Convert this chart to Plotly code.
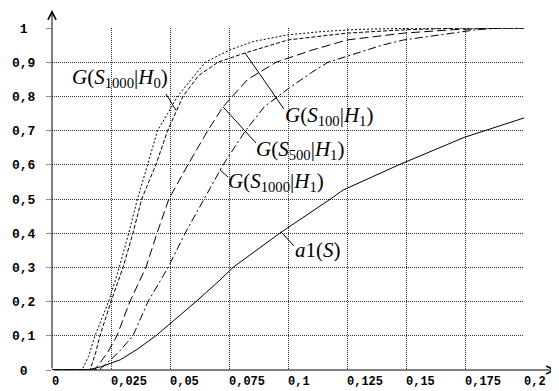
import plotly.graph_objects as go

# ---- data ----
s_h0 = [0, 0.0127, 0.0155, 0.0182, 0.0240, 0.0285, 0.0325, 0.0362, 0.0405, 0.0447, 0.0490, 0.0532, 0.0590, 0.0650, 0.0750, 0.0850, 0.100, 0.115, 0.130, 0.150, 0.175, 0.200]
g_h0 = [0, 0, 0.04, 0.10, 0.20, 0.30, 0.40, 0.50, 0.60, 0.70, 0.75, 0.80, 0.85, 0.90, 0.935, 0.960, 0.980, 0.990, 0.996, 0.999, 1.0, 1.0]

s_100 = [0, 0.0161, 0.0185, 0.0203, 0.0250, 0.0301, 0.0343, 0.0380, 0.0440, 0.0490, 0.0555, 0.0620, 0.0703, 0.0818, 0.100, 0.125, 0.150, 0.175, 0.200]
g_100 = [0, 0, 0.05, 0.10, 0.20, 0.30, 0.40, 0.50, 0.60, 0.70, 0.80, 0.86, 0.90, 0.927, 0.965, 0.985, 0.995, 1.0, 1.0]

s_500 = [0, 0.0180, 0.0235, 0.0275, 0.0330, 0.0398, 0.0445, 0.0495, 0.0576, 0.0660, 0.0725, 0.0830, 0.0950, 0.110, 0.125, 0.149, 0.170, 0.190, 0.200]
g_500 = [0, 0, 0.05, 0.10, 0.20, 0.30, 0.40, 0.50, 0.60, 0.70, 0.77, 0.85, 0.90, 0.935, 0.965, 0.985, 0.995, 1.0, 1.0]

s_1000 = [0, 0.0200, 0.0280, 0.0343, 0.0407, 0.0492, 0.0564, 0.0645, 0.0725, 0.0820, 0.0900, 0.0996, 0.110, 0.117, 0.140, 0.149, 0.165, 0.180, 0.190, 0.200]
g_1000 = [0, 0, 0.05, 0.10, 0.20, 0.30, 0.40, 0.50, 0.60, 0.70, 0.77, 0.82, 0.87, 0.90, 0.95, 0.965, 0.98, 0.995, 1.0, 1.0]

s_a1 = [0, 0.0150, 0.0210, 0.0290, 0.0360, 0.0440, 0.0610, 0.0712, 0.0767, 0.0965, 0.118, 0.1233, 0.147, 0.1746, 0.200]
g_a1 = [0, 0, 0.01, 0.03, 0.06, 0.10, 0.20, 0.263, 0.30, 0.40, 0.50, 0.526, 0.60, 0.68, 0.737]

x_ticks = [0, 0.025, 0.05, 0.075, 0.1, 0.125, 0.15, 0.175, 0.2]
x_ticklabels = ["0", "0,025", "0,05", "0,075", "0,1", "0,125", "0,15", "0,175", "0,2"]
y_ticks = [0, 0.1, 0.2, 0.3, 0.4, 0.5, 0.6, 0.7, 0.8, 0.9, 1.0]
y_ticklabels = ["\u00a00\u00a0", "0,1", "0,2", "0,3", "0,4", "0,5", "0,6", "0,7", "0,8", "0,9", "\u00a01\u00a0"]

series = [
    (s_h0, g_h0, "2px,2px"),
    (s_100, g_100, "4px,2px"),
    (s_500, g_500, "9px,4px"),
    (s_1000, g_1000, "8px,3px,2px,3px"),
    (s_a1, g_a1, "solid"),
]

# label text, label centre (x, y), leader start, leader end
labels = [
    ("<i>G</i>(<i>S</i><sub>1000</sub>|<i>H</i><sub>0</sub>)", 0.0288, 0.854, (0.0483, 0.807), (0.0525, 0.760)),
    ("<i>G</i>(<i>S</i><sub>100</sub>|<i>H</i><sub>1</sub>)", 0.1172, 0.743, (0.0818, 0.927), (0.0983, 0.763)),
    ("<i>G</i>(<i>S</i><sub>500</sub>|<i>H</i><sub>1</sub>)", 0.1051, 0.643, (0.0725, 0.769), (0.0864, 0.664)),
    ("<i>G</i>(<i>S</i><sub>1000</sub>|<i>H</i><sub>1</sub>)", 0.0949, 0.550, (0.0712, 0.585), (0.0746, 0.564)),
    ("<i>a</i>1(<i>S</i>)", 0.1129, 0.351, (0.0970, 0.404), (0.1025, 0.363)),
]

fig = go.Figure()
for sx, gy, dash in series:
    fig.add_trace(go.Scatter(x=sx, y=gy, mode="lines",
                             line=dict(color="black", width=1, dash=dash),
                             showlegend=False, hoverinfo="skip"))

shapes = []
annotations = []
for text, lx, ly, p0, p1 in labels:
    annotations.append(dict(x=lx, y=ly, xref="x", yref="y", text=text, showarrow=False,
                            font=dict(family="Liberation Serif", size=21, color="black"),
                            xanchor="center", yanchor="middle"))
    shapes.append(dict(type="line", xref="x", yref="y", x0=p0[0], y0=p0[1], x1=p1[0], y1=p1[1],
                       line=dict(color="black", width=1)))

# axis lines with arrow heads
annotations.append(dict(xref="paper", yref="paper", x=0, y=1.0526, ax=0, ay=360,
                        axref="pixel", ayref="pixel", text="", showarrow=True,
                        arrowhead=5, arrowsize=1.6, arrowwidth=1, arrowcolor="black"))
annotations.append(dict(xref="paper", yref="paper", x=1.068, y=0, ax=-504, ay=0,
                        axref="pixel", ayref="pixel", text="", showarrow=True,
                        arrowhead=5, arrowsize=1.6, arrowwidth=1, arrowcolor="black"))

tickfont = dict(family="Liberation Mono", size=13, color="black", weight="bold")
xtickfont = dict(family="Liberation Mono", size=12, color="black", weight="bold")

# the page body adds an 8px margin, so the figure is drawn 8px smaller and shifted
fig.update_layout(
    width=551, height=383,
    margin=dict(l=44, r=35, t=20, b=21, pad=0),
    paper_bgcolor="white", plot_bgcolor="white",
    shapes=shapes, annotations=annotations,
    xaxis=dict(range=[0, 0.2], tickvals=x_ticks, ticktext=x_ticklabels, automargin=False,
               showgrid=True, gridcolor="#333", griddash="1px,1px", gridwidth=1,
               zeroline=False, showline=False, ticks="", ticklabelstandoff=2,
               ticklabelposition="outside right", tickfont=xtickfont, fixedrange=True),
    yaxis=dict(range=[0, 1], tickvals=y_ticks, ticktext=y_ticklabels, automargin=False,
               showgrid=True, gridcolor="#333", griddash="1px,1px", gridwidth=1,
               zeroline=False, showline=False, ticks="outside", ticklen=5,
               tickcolor="#888", ticklabelstandoff=8, tickfont=tickfont, fixedrange=True),
)

fig.write_html("out.html")
